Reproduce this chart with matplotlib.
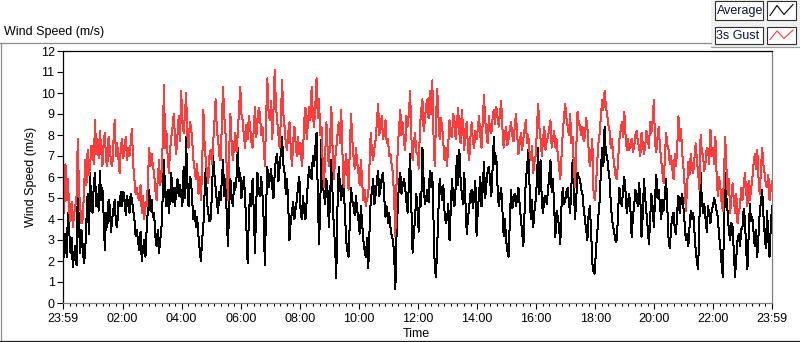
import matplotlib
matplotlib.use("Agg")
import matplotlib.pyplot as plt
from matplotlib.lines import Line2D
from matplotlib.patches import Rectangle
import numpy as np

W, H = 800, 342

# one reading every 2.5 minutes, 23:59 -> 23:59 (minutes since start)
minutes = np.arange(0, 1440.1, 2.5)

gust = [
    5.0, 4.3, 6.6, 4.9, 5.9, 4.4, 3.9, 4.8, 3.6, 4.2, 4.6, 5.1,
    7.8, 5.3, 4.6, 3.8, 4.0, 5.2, 6.8, 5.6, 7.3, 6.1, 6.5, 7.5,
    7.4, 6.6, 8.7, 7.1, 7.8, 6.9, 8.2, 7.3, 6.5, 7.6, 8.1, 6.8,
    6.5, 7.9, 7.4, 6.7, 6.5, 7.7, 8.7, 7.0, 7.6, 6.9, 6.2, 7.5,
    7.8, 6.9, 7.3, 7.9, 6.8, 7.4, 7.0, 7.6, 8.3, 6.6, 5.9, 5.2,
    5.5, 5.0, 4.9, 5.6, 4.3, 5.1, 4.0, 4.8, 4.6, 5.8, 7.4, 6.5,
    7.1, 6.5, 6.2, 5.4, 4.9, 5.9, 6.8, 5.6, 6.2, 7.6, 10.4, 7.4,
    8.2, 7.0, 6.2, 7.3, 7.9, 8.4, 9.0, 7.8, 7.1, 8.0, 8.9, 7.7,
    10.1, 8.6, 8.1, 8.9, 10.0, 8.0, 7.4, 8.6, 8.4, 7.7, 6.8, 6.3,
    5.9, 6.6, 5.2, 6.0, 4.9, 6.3, 9.2, 7.6, 6.8, 6.2, 5.7, 7.0,
    7.3, 6.6, 7.6, 8.6, 9.7, 8.2, 7.8, 7.0, 6.8, 8.4, 10.3, 8.9,
    8.1, 6.4, 4.9, 7.2, 9.0, 7.6, 6.8, 7.5, 8.1, 7.2, 8.1, 9.2,
    10.3, 9.0, 8.7, 7.9, 7.4, 8.5, 7.8, 8.9, 8.4, 7.7, 7.4, 8.3,
    9.35, 7.9, 8.6, 9.3, 9.0, 8.0, 8.4, 7.6, 6.5, 8.8, 10.7, 9.1,
    8.7, 9.6, 7.8, 9.2, 11.1, 9.4, 8.7, 8.0, 7.4, 8.8, 10.6, 9.0,
    8.4, 7.6, 7.3, 8.1, 8.6, 7.4, 6.5, 7.7, 8.4, 7.6, 7.0, 7.9,
    7.1, 7.6, 6.5, 7.2, 8.7, 9.3, 7.8, 8.6, 9.35, 8.7, 10.3, 8.9,
    8.4, 9.4, 10.7, 8.8, 9.7, 8.0, 8.4, 6.6, 5.5, 7.0, 8.6, 7.3,
    6.5, 7.8, 9.35, 7.4, 5.9, 6.8, 7.4, 8.0, 8.6, 7.6, 9.2, 7.2,
    5.5, 6.4, 7.1, 6.2, 5.4, 7.3, 9.0, 7.8, 7.0, 6.4, 7.4, 6.7,
    6.2, 5.6, 6.8, 5.8, 4.9, 5.4, 4.6, 5.0, 5.1, 6.6, 8.1, 7.2,
    6.8, 7.4, 7.8, 8.6, 9.5, 8.0, 8.4, 8.9, 7.8, 8.2, 8.7, 7.6,
    7.8, 7.0, 7.1, 6.6, 6.2, 5.0, 3.2, 5.8, 7.4, 8.3, 9.2, 8.0,
    8.6, 7.7, 7.3, 8.9, 8.4, 9.0, 10.1, 7.9, 6.8, 7.6, 8.1, 7.2,
    7.1, 6.4, 8.4, 9.2, 9.7, 8.2, 8.7, 9.4, 9.7, 8.8, 10.1, 9.0,
    10.6, 8.0, 6.5, 8.7, 10.2, 8.9, 7.8, 8.8, 8.4, 7.6, 6.8, 7.4,
    6.5, 7.6, 8.7, 8.0, 7.9, 9.0, 8.7, 7.8, 8.6, 9.3, 8.1, 7.6,
    9.2, 8.4, 7.3, 8.3, 8.6, 7.4, 6.8, 7.9, 8.6, 7.7, 7.4, 8.2,
    7.8, 8.3, 8.9, 8.0, 7.4, 8.6, 9.9, 8.7, 8.1, 7.6, 8.9, 8.2,
    8.1, 8.8, 9.2, 8.5, 9.35, 8.9, 8.4, 9.0, 9.6, 8.3, 7.4, 8.0,
    8.4, 7.5, 7.8, 8.3, 8.6, 8.0, 7.7, 8.4, 9.0, 8.0, 7.1, 7.6,
    8.1, 7.3, 7.8, 8.3, 8.7, 7.6, 8.0, 7.2, 6.8, 7.5, 6.2, 6.7,
    7.0, 8.3, 9.5, 8.4, 7.8, 7.0, 7.8, 8.4, 7.3, 7.7, 7.9, 8.3,
    8.7, 7.4, 7.8, 8.2, 7.4, 7.8, 7.0, 6.5, 5.9, 7.0, 8.1, 8.8,
    9.5, 8.8, 8.4, 8.0, 9.0, 7.6, 7.9, 6.6, 5.5, 7.4, 9.1, 8.6,
    8.4, 8.0, 8.4, 7.7, 7.9, 8.8, 8.4, 7.3, 6.5, 7.0, 7.8, 5.3,
    4.9, 5.6, 6.7, 7.6, 8.1, 8.9, 9.65, 9.2, 10.1, 9.4, 9.0, 8.5,
    8.2, 7.4, 7.8, 7.0, 6.5, 6.0, 5.9, 6.8, 7.8, 8.2, 8.6, 7.9,
    9.1, 8.0, 7.3, 7.8, 7.3, 7.6, 7.8, 7.2, 7.4, 8.0, 8.2, 7.7,
    7.4, 7.0, 8.1, 7.6, 7.1, 7.5, 8.2, 7.8, 7.4, 8.6, 8.1, 8.7,
    9.65, 7.6, 7.2, 7.9, 8.4, 7.4, 6.8, 6.2, 5.7, 7.0, 8.1, 7.5,
    7.3, 6.6, 7.0, 6.4, 5.9, 7.1, 6.5, 7.4, 8.9, 7.7, 8.3, 7.2,
    6.5, 5.6, 4.4, 5.5, 6.7, 6.1, 7.1, 6.4, 6.2, 6.9, 7.6, 6.8,
    6.2, 5.4, 8.0, 7.2, 7.0, 6.3, 6.7, 7.4, 7.3, 6.6, 8.25, 7.0,
    7.4, 6.6, 7.9, 6.1, 5.1, 6.0, 5.5, 4.8, 4.4, 6.2, 7.9, 6.4,
    5.2, 5.9, 4.3, 5.0, 5.7, 4.9, 4.3, 5.2, 3.8, 4.4, 4.6, 5.5,
    4.9, 5.6, 6.2, 5.3, 4.6, 5.8, 4.9, 5.4, 5.9, 6.6, 7.1, 6.4,
    7.3, 6.0, 5.2, 6.3, 7.4, 6.6, 6.2, 5.6, 5.5, 6.1, 4.9, 5.4,
    5.8,
]

average = [
    1.6, 3.0, 3.3, 2.2, 4.3, 3.5, 2.4, 3.1, 1.7, 2.3, 2.7, 1.8,
    5.4, 3.6, 2.4, 3.5, 2.7, 1.9, 2.4, 3.9, 5.2, 3.3, 6.2, 4.4,
    4.3, 5.6, 6.2, 4.6, 5.2, 4.4, 6.3, 4.9, 5.5, 4.2, 2.5, 4.3,
    3.6, 4.9, 4.6, 3.4, 4.0, 4.5, 4.9, 3.8, 3.6, 4.8, 4.6, 5.3,
    4.6, 5.3, 4.9, 4.2, 5.1, 4.7, 4.3, 5.2, 4.9, 4.4, 4.0, 3.2,
    3.5, 2.9, 2.5, 3.4, 2.0, 2.6, 3.0, 2.2, 3.6, 4.5, 5.4, 4.4,
    4.9, 4.1, 4.3, 3.2, 2.7, 3.5, 2.4, 3.0, 3.6, 5.1, 6.8, 5.2,
    4.6, 5.4, 4.3, 5.0, 6.2, 4.8, 5.5, 4.6, 5.4, 5.9, 5.1, 5.6,
    5.2, 4.6, 6.5, 5.0, 7.9, 5.6, 4.6, 6.0, 5.9, 4.8, 4.0, 4.4,
    3.6, 4.1, 3.2, 2.6, 2.0, 3.0, 3.6, 5.2, 6.5, 4.8, 4.3, 3.9,
    4.0, 5.2, 7.0, 6.1, 5.5, 4.8, 4.3, 5.3, 4.9, 5.8, 6.8, 5.1,
    5.9, 4.2, 2.7, 4.6, 5.9, 5.0, 4.6, 5.7, 5.4, 6.0, 7.4, 5.8,
    6.2, 5.0, 5.5, 6.0, 4.9, 3.6, 1.9, 4.1, 5.2, 4.6, 5.9, 4.3,
    2.4, 4.8, 6.2, 5.3, 5.1, 6.0, 5.2, 4.0, 1.8, 4.5, 6.5, 5.5,
    5.9, 6.4, 5.5, 5.0, 6.2, 6.9, 7.1, 5.8, 6.5, 7.2, 7.9, 6.6,
    6.2, 5.2, 5.9, 4.6, 3.0, 3.9, 4.3, 4.8, 4.0, 4.5, 4.9, 5.6,
    6.0, 4.4, 4.0, 5.1, 4.3, 4.0, 4.9, 5.8, 6.5, 6.0, 5.9, 7.0,
    6.5, 7.4, 8.1, 5.2, 2.8, 4.6, 7.8, 5.6, 5.2, 4.7, 5.9, 5.3,
    3.6, 5.0, 6.8, 5.2, 3.6, 2.8, 1.2, 4.6, 6.5, 5.6, 4.9, 5.6,
    5.5, 4.4, 3.0, 2.5, 2.2, 3.9, 5.5, 4.9, 4.6, 4.2, 5.1, 4.4,
    4.0, 3.3, 4.6, 3.8, 3.0, 2.5, 2.2, 3.1, 1.65, 3.4, 4.9, 5.3,
    5.9, 4.7, 5.2, 5.8, 6.3, 5.1, 5.5, 6.0, 6.2, 5.0, 4.1, 4.6,
    3.8, 4.3, 3.6, 3.2, 3.0, 2.4, 0.65, 3.3, 4.6, 5.8, 6.2, 5.2,
    5.6, 5.9, 5.5, 4.8, 4.3, 5.7, 7.1, 4.6, 2.4, 3.3, 4.0, 5.2,
    4.4, 3.4, 5.2, 4.6, 7.4, 5.8, 4.7, 5.0, 5.4, 4.8, 6.3, 5.5,
    6.2, 4.0, 1.7, 1.25, 2.7, 4.4, 5.9, 5.4, 4.9, 5.6, 4.3, 3.8,
    4.0, 4.7, 3.0, 4.5, 5.9, 5.0, 4.6, 5.5, 7.0, 5.6, 7.3, 5.9,
    5.2, 4.7, 6.2, 4.8, 3.3, 4.0, 4.6, 5.2, 5.4, 4.5, 5.1, 5.8,
    3.2, 4.4, 5.2, 6.0, 4.6, 5.4, 6.7, 5.0, 5.7, 6.3, 6.5, 5.8,
    5.1, 6.4, 7.9, 6.6, 7.0, 5.6, 4.6, 5.1, 5.5, 4.4, 3.2, 4.0,
    3.0, 2.5, 2.2, 3.9, 5.4, 4.5, 4.9, 5.2, 4.6, 5.0, 5.5, 4.7,
    4.0, 3.4, 2.7, 4.4, 5.9, 6.4, 7.3, 5.6, 4.0, 4.9, 3.6, 4.4,
    4.9, 5.8, 7.4, 5.2, 6.8, 4.8, 4.3, 5.0, 5.1, 4.7, 5.4, 6.0,
    6.8, 5.3, 5.9, 4.6, 3.15, 4.4, 4.1, 3.6, 2.8, 4.6, 5.5, 4.7,
    4.9, 5.3, 5.5, 4.8, 4.3, 5.6, 6.8, 5.4, 4.0, 5.0, 6.2, 6.0,
    5.9, 5.4, 5.2, 4.5, 4.0, 3.5, 3.0, 4.2, 4.6, 3.5, 1.9, 1.5,
    1.4, 2.6, 3.3, 4.2, 4.9, 6.3, 7.4, 6.5, 8.4, 7.1, 7.0, 6.4,
    5.9, 4.8, 4.0, 3.6, 3.3, 2.9, 3.0, 4.4, 5.5, 5.0, 4.6, 5.4,
    6.0, 5.3, 4.3, 4.8, 5.2, 4.4, 3.15, 4.1, 4.6, 5.4, 5.1, 4.6,
    5.7, 5.0, 3.15, 4.2, 5.9, 5.0, 4.3, 3.6, 2.8, 4.0, 5.2, 4.6,
    3.6, 5.0, 6.1, 5.0, 5.4, 4.6, 4.0, 4.9, 4.4, 5.2, 5.9, 4.4,
    3.0, 2.6, 3.6, 4.1, 4.3, 3.5, 3.3, 4.4, 5.1, 4.3, 4.9, 5.2,
    4.6, 3.8, 3.0, 3.3, 2.7, 3.6, 4.4, 4.0, 4.3, 3.4, 2.5, 2.0,
    1.6, 3.9, 6.2, 4.9, 4.3, 4.7, 4.0, 3.4, 4.6, 4.2, 3.8, 4.4,
    4.6, 5.0, 4.7, 4.4, 4.1, 3.2, 2.7, 1.9, 1.25, 3.4, 6.2, 5.0,
    4.3, 3.4, 3.0, 3.8, 3.6, 2.4, 1.25, 2.2, 3.0, 3.3, 2.7, 3.5,
    3.6, 4.5, 4.0, 2.5, 1.6, 3.1, 4.7, 3.9, 4.1, 3.4, 2.7, 3.5,
    2.2, 3.2, 4.3, 4.8, 5.4, 4.2, 3.3, 2.6, 4.4, 3.0, 2.2, 3.6,
    4.6,
]

tick_minutes = [0, 121, 241, 361, 481, 601, 721, 841, 961, 1081, 1201, 1321, 1440]
tick_labels = ["23:59", "02:00", "04:00", "06:00", "08:00", "10:00", "12:00",
               "14:00", "16:00", "18:00", "20:00", "22:00", "23:59"]
y_ticks = list(range(13))


def fx(x):
    return x / W


def fy(y):
    return 1 - y / H


plt.rcParams["font.family"] = ["Liberation Sans", "DejaVu Sans"]
plt.rcParams["font.size"] = 9

fig = plt.figure(figsize=(W / 100, H / 100), dpi=100)
fig.patch.set_facecolor("white")

ax = fig.add_axes([fx(63), fy(303), 709 / W, 252 / H])
ax.plot(minutes, average, color="black", lw=0.72, antialiased=False)
ax.plot(minutes, gust, color="#ff3c3c", lw=0.72, antialiased=False)

ax.set_xlim(0, 1440)
ax.set_ylim(0, 12)
ax.set_xticks(tick_minutes)
ax.set_xticklabels(tick_labels)
minor = []
for a, b in zip(tick_minutes[:-1], tick_minutes[1:]):
    minor.extend(np.linspace(a, b, 10)[1:-1])
ax.set_xticks(minor, minor=True)
ax.set_yticks(y_ticks)

ax.tick_params(axis="x", which="major", length=4, width=0.8, pad=3, color="black")
ax.tick_params(axis="x", which="minor", length=2.2, width=0.8, color="black")
ax.tick_params(axis="y", which="major", length=4, width=0.8, pad=2, color="black")

for side in ["top", "left"]:
    ax.spines[side].set_color("black")
    ax.spines[side].set_linewidth(0.9)
for side in ["right", "bottom"]:
    ax.spines[side].set_color("#808080")
    ax.spines[side].set_linewidth(0.9)

# labels
fig.text(fx(4), fy(32), "Wind Speed (m/s)", ha="left", va="center")
fig.text(fx(31), fy(177), "Wind Speed (m/s)", ha="center", va="center", rotation=90)
fig.text(fx(416), fy(334), "Time", ha="center", va="center")

# chart frame
fig.add_artist(Line2D([fx(0), fx(711)], [fy(42.5), fy(42.5)], transform=fig.transFigure,
                      color="#8c8c8c", lw=0.9))
fig.add_artist(Line2D([fx(0.5), fx(0.5)], [fy(42.5), fy(341)], transform=fig.transFigure,
                      color="#8c8c8c", lw=0.9))
fig.add_artist(Line2D([fx(0), fx(800)], [fy(341), fy(341)], transform=fig.transFigure,
                      color="#202020", lw=0.9))

# legend panel
fig.add_artist(Rectangle((fx(711), fy(47)), 89 / W, 47 / H, transform=fig.transFigure,
                         facecolor="#f0f0f0", edgecolor="none"))
fig.add_artist(Line2D([fx(711), fx(800)], [fy(46.5), fy(46.5)], transform=fig.transFigure,
                      color="#a0a0a0", lw=0.9))

legend_rows = [("Average", "black", 1.5, 19.5), ("3s Gust", "#ff3c3c", 27, 43.5)]
for name, col, top, bot in legend_rows:
    fig.add_artist(Rectangle((fx(714.5), fy(bot)), 48 / W, (bot - top) / H,
                             transform=fig.transFigure, facecolor="white",
                             edgecolor="#303030", lw=0.8))
    fig.text(fx(716.5), fy((top + bot) / 2 + 0.5), name, ha="left", va="center",
             color="#101040")
    fig.add_artist(Rectangle((fx(767), fy(bot)), 29 / W, (bot - top) / H,
                             transform=fig.transFigure, facecolor="white",
                             edgecolor="#303030", lw=0.8))
    zx = [770, 777, 784, 793]
    zy = [bot - 4, top + 4, bot - 5, top + 3]
    fig.add_artist(Line2D([fx(v) for v in zx], [fy(v) for v in zy],
                          transform=fig.transFigure, color=col, lw=0.8))

fig.savefig("out.png", dpi=100)
